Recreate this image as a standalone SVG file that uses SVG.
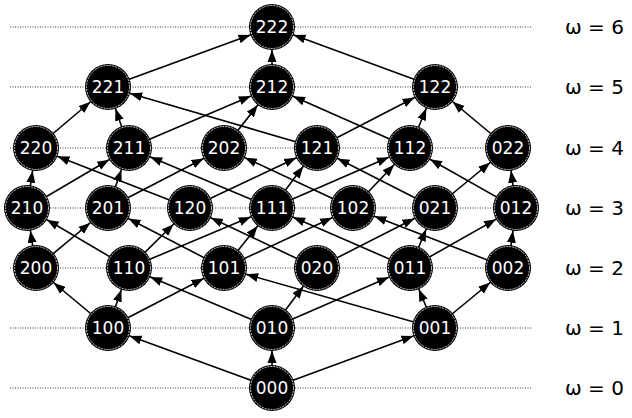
<svg xmlns="http://www.w3.org/2000/svg" width="632" height="418" viewBox="0 0 632 418">
<defs>
<marker id="a" markerUnits="userSpaceOnUse" markerWidth="12" markerHeight="10" refX="35" refY="5" orient="auto"><path d="M0,0.5 L12,5 L0,9.5 z" fill="#000"/></marker>
</defs>
<style>
.g line{stroke:#000;stroke-width:0.8;stroke-dasharray:1,1.5}
.e line{stroke:#000;stroke-width:1.6}
.n circle.o{fill:#000}
.n circle.i{fill:none;stroke:#fff;stroke-width:0.8;stroke-dasharray:2,1}
.n text{fill:#fff;font-family:"DejaVu Sans",sans-serif;font-size:17px;text-anchor:middle;dominant-baseline:central}
.l{font-family:"DejaVu Sans",sans-serif;font-size:20px;fill:#000}
</style>
<rect width="632" height="418" fill="#fff"/>
<g class="g">
<line x1="10" y1="27" x2="532" y2="27"/><line x1="10" y1="87" x2="532" y2="87"/><line x1="10" y1="148" x2="532" y2="148"/><line x1="10" y1="208" x2="532" y2="208"/><line x1="10" y1="268" x2="532" y2="268"/><line x1="10" y1="328" x2="532" y2="328"/><line x1="10" y1="388" x2="532" y2="388"/>
</g>
<g class="l">
<text x="565" y="34">ω = 6</text><text x="565" y="94">ω = 5</text><text x="565" y="155">ω = 4</text><text x="565" y="215">ω = 3</text><text x="565" y="275">ω = 2</text><text x="565" y="335">ω = 1</text><text x="565" y="395">ω = 0</text>
</g>
<g class="e" id="connectors" marker-end="url(#a)">
<line marker-end="url(#a)" x1="272" y1="388" x2="108" y2="328"/><line marker-end="url(#a)" x1="272" y1="388" x2="272" y2="328"/><line marker-end="url(#a)" x1="272" y1="388" x2="435" y2="328"/>
<line marker-end="url(#a)" x1="108" y1="328" x2="36" y2="268"/><line marker-end="url(#a)" x1="108" y1="328" x2="129" y2="268"/><line marker-end="url(#a)" x1="108" y1="328" x2="224" y2="268"/>
<line marker-end="url(#a)" x1="272" y1="328" x2="129" y2="268"/><line marker-end="url(#a)" x1="272" y1="328" x2="317" y2="268"/><line marker-end="url(#a)" x1="272" y1="328" x2="410" y2="268"/>
<line marker-end="url(#a)" x1="435" y1="328" x2="224" y2="268"/><line marker-end="url(#a)" x1="435" y1="328" x2="410" y2="268"/><line marker-end="url(#a)" x1="435" y1="328" x2="508" y2="268"/>
<line marker-end="url(#a)" x1="36" y1="268" x2="27" y2="208"/><line marker-end="url(#a)" x1="36" y1="268" x2="108" y2="208"/>
<line marker-end="url(#a)" x1="129" y1="268" x2="27" y2="208"/><line marker-end="url(#a)" x1="129" y1="268" x2="190" y2="208"/><line marker-end="url(#a)" x1="129" y1="268" x2="272" y2="208"/>
<line marker-end="url(#a)" x1="224" y1="268" x2="108" y2="208"/><line marker-end="url(#a)" x1="224" y1="268" x2="272" y2="208"/><line marker-end="url(#a)" x1="224" y1="268" x2="353" y2="208"/>
<line marker-end="url(#a)" x1="317" y1="268" x2="190" y2="208"/><line marker-end="url(#a)" x1="317" y1="268" x2="435" y2="208"/>
<line marker-end="url(#a)" x1="410" y1="268" x2="272" y2="208"/><line marker-end="url(#a)" x1="410" y1="268" x2="435" y2="208"/><line marker-end="url(#a)" x1="410" y1="268" x2="516" y2="208"/>
<line marker-end="url(#a)" x1="508" y1="268" x2="353" y2="208"/><line marker-end="url(#a)" x1="508" y1="268" x2="516" y2="208"/>
<line marker-end="url(#a)" x1="27" y1="208" x2="36" y2="148"/><line marker-end="url(#a)" x1="27" y1="208" x2="129" y2="148"/>
<line marker-end="url(#a)" x1="108" y1="208" x2="129" y2="148"/><line marker-end="url(#a)" x1="108" y1="208" x2="224" y2="148"/>
<line marker-end="url(#a)" x1="190" y1="208" x2="36" y2="148"/><line marker-end="url(#a)" x1="190" y1="208" x2="317" y2="148"/>
<line marker-end="url(#a)" x1="272" y1="208" x2="129" y2="148"/><line marker-end="url(#a)" x1="272" y1="208" x2="317" y2="148"/><line marker-end="url(#a)" x1="272" y1="208" x2="410" y2="148"/>
<line marker-end="url(#a)" x1="353" y1="208" x2="224" y2="148"/><line marker-end="url(#a)" x1="353" y1="208" x2="410" y2="148"/>
<line marker-end="url(#a)" x1="435" y1="208" x2="317" y2="148"/><line marker-end="url(#a)" x1="435" y1="208" x2="508" y2="148"/>
<line marker-end="url(#a)" x1="516" y1="208" x2="410" y2="148"/><line marker-end="url(#a)" x1="516" y1="208" x2="508" y2="148"/>
<line marker-end="url(#a)" x1="36" y1="148" x2="108" y2="87"/>
<line marker-end="url(#a)" x1="129" y1="148" x2="108" y2="87"/><line marker-end="url(#a)" x1="129" y1="148" x2="272" y2="87"/>
<line marker-end="url(#a)" x1="224" y1="148" x2="272" y2="87"/>
<line marker-end="url(#a)" x1="317" y1="148" x2="108" y2="87"/><line marker-end="url(#a)" x1="317" y1="148" x2="435" y2="87"/>
<line marker-end="url(#a)" x1="410" y1="148" x2="272" y2="87"/><line marker-end="url(#a)" x1="410" y1="148" x2="435" y2="87"/>
<line marker-end="url(#a)" x1="508" y1="148" x2="435" y2="87"/>
<line marker-end="url(#a)" x1="108" y1="87" x2="272" y2="27"/><line marker-end="url(#a)" x1="272" y1="87" x2="272" y2="27"/><line marker-end="url(#a)" x1="435" y1="87" x2="272" y2="27"/>
</g>
<g class="n" id="n222"><circle class="o" cx="272" cy="27" r="23"/><circle class="i" cx="272" cy="27" r="21.5"/><text x="272" y="27">222</text></g>
<g class="n" id="n221"><circle class="o" cx="108" cy="87" r="23"/><circle class="i" cx="108" cy="87" r="21.5"/><text x="108" y="87">221</text></g>
<g class="n" id="n212"><circle class="o" cx="272" cy="87" r="23"/><circle class="i" cx="272" cy="87" r="21.5"/><text x="272" y="87">212</text></g>
<g class="n" id="n122"><circle class="o" cx="435" cy="87" r="23"/><circle class="i" cx="435" cy="87" r="21.5"/><text x="435" y="87">122</text></g>
<g class="n" id="n220"><circle class="o" cx="36" cy="148" r="23"/><circle class="i" cx="36" cy="148" r="21.5"/><text x="36" y="148">220</text></g>
<g class="n" id="n211"><circle class="o" cx="129" cy="148" r="23"/><circle class="i" cx="129" cy="148" r="21.5"/><text x="129" y="148">211</text></g>
<g class="n" id="n202"><circle class="o" cx="224" cy="148" r="23"/><circle class="i" cx="224" cy="148" r="21.5"/><text x="224" y="148">202</text></g>
<g class="n" id="n121"><circle class="o" cx="317" cy="148" r="23"/><circle class="i" cx="317" cy="148" r="21.5"/><text x="317" y="148">121</text></g>
<g class="n" id="n112"><circle class="o" cx="410" cy="148" r="23"/><circle class="i" cx="410" cy="148" r="21.5"/><text x="410" y="148">112</text></g>
<g class="n" id="n022"><circle class="o" cx="508" cy="148" r="23"/><circle class="i" cx="508" cy="148" r="21.5"/><text x="508" y="148">022</text></g>
<g class="n" id="n210"><circle class="o" cx="27" cy="208" r="23"/><circle class="i" cx="27" cy="208" r="21.5"/><text x="27" y="208">210</text></g>
<g class="n" id="n201"><circle class="o" cx="108" cy="208" r="23"/><circle class="i" cx="108" cy="208" r="21.5"/><text x="108" y="208">201</text></g>
<g class="n" id="n120"><circle class="o" cx="190" cy="208" r="23"/><circle class="i" cx="190" cy="208" r="21.5"/><text x="190" y="208">120</text></g>
<g class="n" id="n111"><circle class="o" cx="272" cy="208" r="23"/><circle class="i" cx="272" cy="208" r="21.5"/><text x="272" y="208">111</text></g>
<g class="n" id="n102"><circle class="o" cx="353" cy="208" r="23"/><circle class="i" cx="353" cy="208" r="21.5"/><text x="353" y="208">102</text></g>
<g class="n" id="n021"><circle class="o" cx="435" cy="208" r="23"/><circle class="i" cx="435" cy="208" r="21.5"/><text x="435" y="208">021</text></g>
<g class="n" id="n012"><circle class="o" cx="516" cy="208" r="23"/><circle class="i" cx="516" cy="208" r="21.5"/><text x="516" y="208">012</text></g>
<g class="n" id="n200"><circle class="o" cx="36" cy="268" r="23"/><circle class="i" cx="36" cy="268" r="21.5"/><text x="36" y="268">200</text></g>
<g class="n" id="n110"><circle class="o" cx="129" cy="268" r="23"/><circle class="i" cx="129" cy="268" r="21.5"/><text x="129" y="268">110</text></g>
<g class="n" id="n101"><circle class="o" cx="224" cy="268" r="23"/><circle class="i" cx="224" cy="268" r="21.5"/><text x="224" y="268">101</text></g>
<g class="n" id="n020"><circle class="o" cx="317" cy="268" r="23"/><circle class="i" cx="317" cy="268" r="21.5"/><text x="317" y="268">020</text></g>
<g class="n" id="n011"><circle class="o" cx="410" cy="268" r="23"/><circle class="i" cx="410" cy="268" r="21.5"/><text x="410" y="268">011</text></g>
<g class="n" id="n002"><circle class="o" cx="508" cy="268" r="23"/><circle class="i" cx="508" cy="268" r="21.5"/><text x="508" y="268">002</text></g>
<g class="n" id="n100"><circle class="o" cx="108" cy="328" r="23"/><circle class="i" cx="108" cy="328" r="21.5"/><text x="108" y="328">100</text></g>
<g class="n" id="n010"><circle class="o" cx="272" cy="328" r="23"/><circle class="i" cx="272" cy="328" r="21.5"/><text x="272" y="328">010</text></g>
<g class="n" id="n001"><circle class="o" cx="435" cy="328" r="23"/><circle class="i" cx="435" cy="328" r="21.5"/><text x="435" y="328">001</text></g>
<g class="n" id="n000"><circle class="o" cx="272" cy="388" r="23"/><circle class="i" cx="272" cy="388" r="21.5"/><text x="272" y="388">000</text></g>
</svg>
